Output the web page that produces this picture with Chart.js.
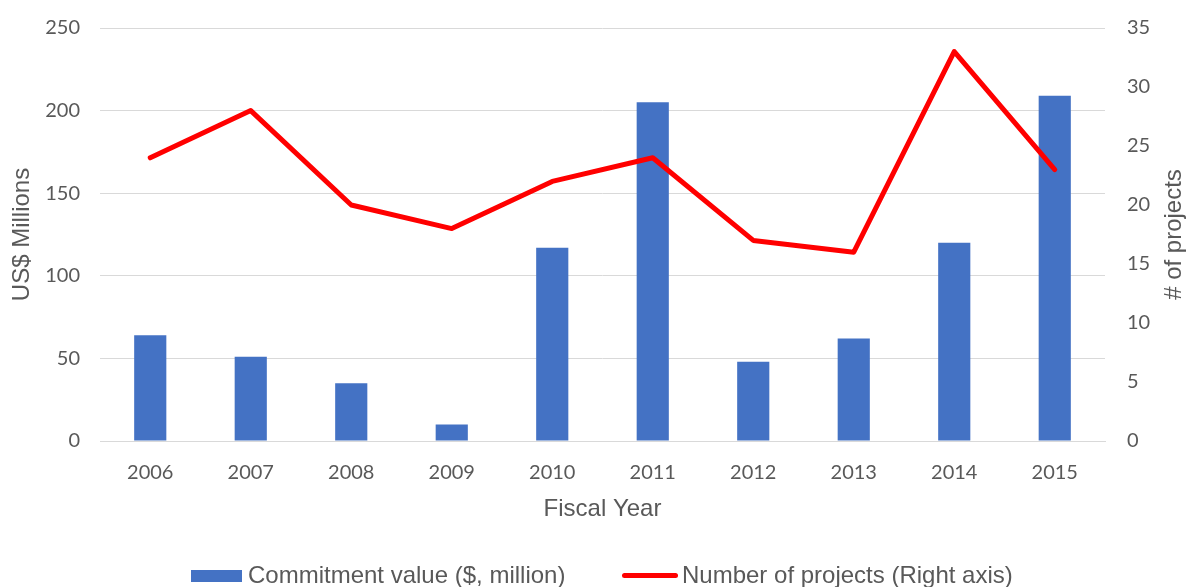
<!DOCTYPE html>
<html>
<head>
<meta charset="utf-8">
<script src="https://cdn.jsdelivr.net/npm/chart.js@4.4.1/dist/chart.umd.min.js"></script>
<style>
  html, body { margin: 0; padding: 0; background: #fff; }
  #wrap { position: relative; width: 1186px; height: 587px; }
  #legend {
    position: absolute; left: 0; top: 562px; width: 1186px; height: 25px;
    font-family: "Liberation Sans", Arial, sans-serif; font-size: 24px; color: #595959;
  }
  .item { position: absolute; top: 0; white-space: nowrap; line-height: 25px; }
  .swatch { display: inline-block; vertical-align: middle; margin-right: 6px; position: relative; top: -1px; }
</style>
</head>
<body>
<div id="wrap">
  <canvas id="chart" width="1186" height="587"></canvas>
  <div id="legend">
    <div class="item" style="left:191px"><span class="swatch" style="width:51px;height:12px;background:#4472C4"></span>Commitment value ($, million)</div>
    <div class="item" style="left:622px"><span class="swatch" style="width:56px;height:5px;border-radius:3px;background:#FF0000;margin-right:4px"></span>Number of projects (Right axis)</div>
  </div>
</div>
<script>
// 資料
const years = ['2006', '2007', '2008', '2009', '2010', '2011', '2012', '2013', '2014', '2015'];
const commitmentValues = [64, 51, 35, 10, 117, 205, 48, 62, 120, 209];
const projectCounts = [24, 28, 20, 18, 22, 24, 17, 16, 33, 23];

const tickColor = '#595959';
const tickFont = { family: 'Lato, "Open Sans", sans-serif', size: 20 };
const titleFont = { family: '"Liberation Sans", Arial, sans-serif', size: 24 };

// 右軸標題 (由下往上)
const rightTitle = {
    id: 'rightTitle',
    afterDraw(chart) {
        const ctx = chart.ctx;
        const area = chart.chartArea;
        ctx.save();
        ctx.translate(1174, (area.top + area.bottom) / 2);
        ctx.rotate(-Math.PI / 2);
        ctx.fillStyle = tickColor;
        ctx.font = '24px "Liberation Sans", Arial, sans-serif';
        ctx.textAlign = 'center';
        ctx.textBaseline = 'middle';
        ctx.fillText('# of projects', 0, 0);
        ctx.restore();
    }
};

// 固定軸的尺寸
function fixVertical(width) {
    return s => {
        s.width = width;
        s.paddingTop = 0;
        s.paddingBottom = 0;
    };
}

const ctx = document.getElementById('chart').getContext('2d');
new Chart(ctx, {
    type: 'bar',
    data: {
        labels: years,
        datasets: [
            {
                type: 'line',
                label: 'Number of projects (Right axis)',
                data: projectCounts,
                yAxisID: 'y1',
                borderColor: '#FF0000',
                backgroundColor: '#FF0000',
                borderWidth: 5,
                pointRadius: 0,
                tension: 0,
                borderCapStyle: 'round',
                borderJoinStyle: 'round'
            },
            {
                label: 'Commitment value ($, million)',
                data: commitmentValues,
                yAxisID: 'y',
                backgroundColor: '#4472C4',
                categoryPercentage: 1,
                barPercentage: 0.32
            }
        ]
    },
    options: {
        responsive: false,
        animation: false,
        layout: { padding: { top: 28, bottom: 63, left: 0, right: 0 } },
        plugins: {
            legend: { display: false },
            tooltip: { enabled: false }
        },
        scales: {
            x: {
                grid: { display: false, drawTicks: false },
                border: { color: '#d9d9d9', width: 1 },
                ticks: { color: tickColor, font: tickFont, padding: 20 },
                title: {
                    display: true, text: 'Fiscal Year', color: tickColor,
                    font: titleFont,
                    padding: { top: 0, bottom: 0 }
                },
                afterFit: s => {
                    s.height = 83;
                    s.paddingLeft = 0;
                    s.paddingRight = 0;
                }
            },
            y: {
                position: 'left',
                min: 0, max: 250,
                ticks: { stepSize: 50, color: tickColor, font: tickFont, padding: 20 },
                grid: { color: '#d9d9d9', drawTicks: false },
                border: { display: false },
                title: {
                    display: true, text: 'US$ Millions', color: tickColor,
                    font: titleFont,
                    padding: { top: 8, bottom: 0 }
                },
                afterFit: fixVertical(100)
            },
            y1: {
                position: 'right',
                min: 0, max: 35,
                ticks: { stepSize: 5, color: tickColor, font: tickFont, padding: 22 },
                grid: { display: false, drawTicks: false },
                border: { display: false },
                afterFit: fixVertical(81)
            }
        }
    },
    plugins: [rightTitle]
});
</script>
</body>
</html>
